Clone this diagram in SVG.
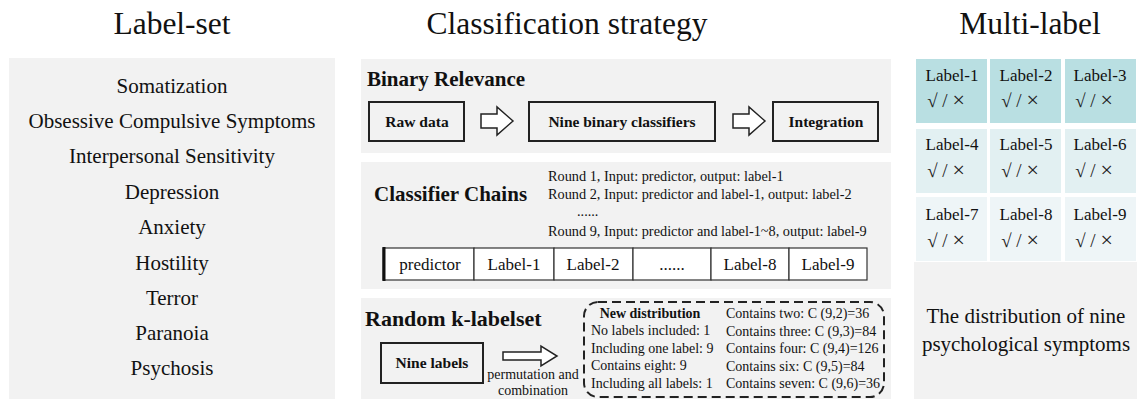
<svg xmlns="http://www.w3.org/2000/svg" width="1145" height="399" viewBox="0 0 1145 399" font-family="'Liberation Serif', 'Times New Roman', Tinos, 'DejaVu Serif', serif">
<style>
text{font-family:'Liberation Serif','Times New Roman',Tinos,'DejaVu Serif',serif;fill:#111}
.h{font-size:31.5px;text-anchor:middle}
.ls{font-size:21px;text-anchor:middle}
.t{font-size:21px;font-weight:bold}
.bb{font-size:15.5px;font-weight:bold;text-anchor:middle}
.r{font-size:14.3px}
.c{font-size:17px;text-anchor:middle}
.ml{font-size:17px;text-anchor:middle}
.sym{font-size:19px;text-anchor:middle;fill:#222}
.x{font-size:22px}
.d{font-size:14px}
.panel{fill:#f2f2f2}
.box{fill:#f2f2f2;stroke:#222;stroke-width:2}
.arr{fill:#fff;stroke:#222;stroke-width:1.5;stroke-linejoin:miter}
.cell{fill:#fff;stroke:#333;stroke-width:1.2}
</style>
<rect width="1145" height="399" fill="#fff"/>
<g id="headers">
<text class="h" x="172" y="34">Label-set</text>
<text class="h" x="567" y="34">Classification strategy</text>
<text class="h" x="1030" y="34">Multi-label</text>
</g>
<g id="label-set">
<rect class="panel" x="9" y="58" width="326" height="341"/>
<text class="ls" x="172" y="93">Somatization</text>
<text class="ls" x="172" y="128">Obsessive Compulsive Symptoms</text>
<text class="ls" x="172" y="163">Interpersonal Sensitivity</text>
<text class="ls" x="172" y="199">Depression</text>
<text class="ls" x="172" y="234">Anxiety</text>
<text class="ls" x="172" y="270">Hostility</text>
<text class="ls" x="172" y="305">Terror</text>
<text class="ls" x="172" y="340">Paranoia</text>
<text class="ls" x="172" y="375">Psychosis</text>
</g>
<g id="binary-relevance">
<rect class="panel" x="361" y="59" width="530" height="94"/>
<text class="t" x="367" y="86">Binary Relevance</text>
<g id="raw-data"><rect class="box" x="369" y="102" width="95" height="39"/><text class="bb" x="417" y="127">Raw data</text></g>
<g id="nine-binary"><rect class="box" x="529" y="102" width="186" height="39"/><text class="bb" x="622" y="127">Nine binary classifiers</text></g>
<g id="integration"><rect class="box" x="773" y="102" width="105" height="39"/><text class="bb" x="826" y="127">Integration</text></g>
</g>
<g id="classifier-chains">
<rect class="panel" x="361" y="162" width="530" height="127"/>
<text class="t" x="374" y="201">Classifier Chains</text>
<text class="r" x="548" y="181">Round 1, Input: predictor, output: label-1</text>
<text class="r" x="548" y="199">Round 2, Input: predictor and label-1, output: label-2</text>
<text class="r" x="577" y="216">......</text>
<text class="r" x="548" y="236">Round 9, Input: predictor and label-1~8, output: label-9</text>
<g id="chain">
<rect class="cell" x="383" y="248" width="91" height="32"/>
<rect class="cell" x="474" y="248" width="80" height="32"/>
<rect class="cell" x="554" y="248" width="79" height="32"/>
<rect class="cell" x="633" y="248" width="78" height="32"/>
<rect class="cell" x="711" y="248" width="78" height="32"/>
<rect class="cell" x="789" y="248" width="78" height="32"/>
<line x1="384" y1="247" x2="384" y2="281" stroke="#111" stroke-width="3"/>
<text class="c" x="430" y="270">predictor</text>
<text class="c" x="514" y="270">Label-1</text>
<text class="c" x="593" y="270">Label-2</text>
<text class="c" x="672" y="270">......</text>
<text class="c" x="750" y="270">Label-8</text>
<text class="c" x="828" y="270">Label-9</text>
</g>
</g>
<g id="random-k-labelset">
<rect class="panel" x="361" y="298" width="530" height="101"/>
<text class="t" x="365" y="326" style="font-size:22px">Random k-labelset</text>
<g id="nine-labels"><rect class="box" x="381" y="343" width="102" height="40"/><text class="bb" x="432" y="368">Nine labels</text></g>
<text class="d" x="533" y="379" text-anchor="middle">permutation and</text>
<text class="d" x="533" y="395" text-anchor="middle">combination</text>
<g id="new-distribution">
<rect x="584" y="302" width="300" height="95" rx="14" fill="none" stroke="#222" stroke-width="2" stroke-dasharray="9 5"/>
<text class="d" x="650" y="318" text-anchor="middle" font-weight="bold">New distribution</text>
<text class="d" x="591" y="335">No labels included: 1</text>
<text class="d" x="591" y="353">Including one label: 9</text>
<text class="d" x="591" y="370">Contains eight: 9</text>
<text class="d" x="591" y="388">Including all labels: 1</text>
<text class="d" x="726" y="318">Contains two: C (9,2)=36</text>
<text class="d" x="726" y="336">Contains three: C (9,3)=84</text>
<text class="d" x="726" y="353">Contains four: C (9,4)=126</text>
<text class="d" x="726" y="371">Contains six: C (9,5)=84</text>
<text class="d" x="726" y="388">Contains seven: C (9,6)=36</text>
</g>
</g>
<g id="connectors">
<path class="arr" d="M481,114 H497 V107 L513,121 L497,135 V128 H481 Z"/>
<path class="arr" d="M733,114 H749 V107 L765,121 L749,135 V128 H733 Z"/>
<path class="arr" d="M503,352 H541 V346 L557,356 L541,366 V360 H503 Z"/>
</g>
<g id="multi-label">
<rect x="916" y="59" width="71" height="64" fill="#b9dfe2"/>
<rect x="990" y="59" width="71" height="64" fill="#b9dfe2"/>
<rect x="1065" y="59" width="71" height="64" fill="#b9dfe2"/>
<rect x="916" y="129" width="71" height="64" fill="#e2f0f2"/>
<rect x="990" y="129" width="71" height="64" fill="#e2f0f2"/>
<rect x="1065" y="129" width="71" height="64" fill="#e2f0f2"/>
<rect x="916" y="197" width="71" height="64" fill="#eef5f7"/>
<rect x="990" y="197" width="71" height="64" fill="#eef5f7"/>
<rect x="1065" y="197" width="71" height="64" fill="#eef5f7"/>
<text class="ml" x="952" y="81">Label-1</text>
<text class="ml" x="1026" y="81">Label-2</text>
<text class="ml" x="1100" y="81">Label-3</text>
<text class="sym" x="946" y="107">√ / <tspan class="x">×</tspan></text>
<text class="sym" x="1020" y="107">√ / <tspan class="x">×</tspan></text>
<text class="sym" x="1094" y="107">√ / <tspan class="x">×</tspan></text>
<text class="ml" x="952" y="150">Label-4</text>
<text class="ml" x="1026" y="150">Label-5</text>
<text class="ml" x="1100" y="150">Label-6</text>
<text class="sym" x="946" y="177">√ / <tspan class="x">×</tspan></text>
<text class="sym" x="1020" y="177">√ / <tspan class="x">×</tspan></text>
<text class="sym" x="1094" y="177">√ / <tspan class="x">×</tspan></text>
<text class="ml" x="952" y="220">Label-7</text>
<text class="ml" x="1026" y="220">Label-8</text>
<text class="ml" x="1100" y="220">Label-9</text>
<text class="sym" x="946" y="247">√ / <tspan class="x">×</tspan></text>
<text class="sym" x="1020" y="247">√ / <tspan class="x">×</tspan></text>
<text class="sym" x="1094" y="247">√ / <tspan class="x">×</tspan></text>
<rect class="panel" x="914" y="262" width="223" height="137"/>
<text x="1026" y="323" style="font-size:21px;text-anchor:middle">The distribution of nine</text>
<text x="1026" y="351" style="font-size:21px;text-anchor:middle">psychological symptoms</text>
</g>
</svg>
